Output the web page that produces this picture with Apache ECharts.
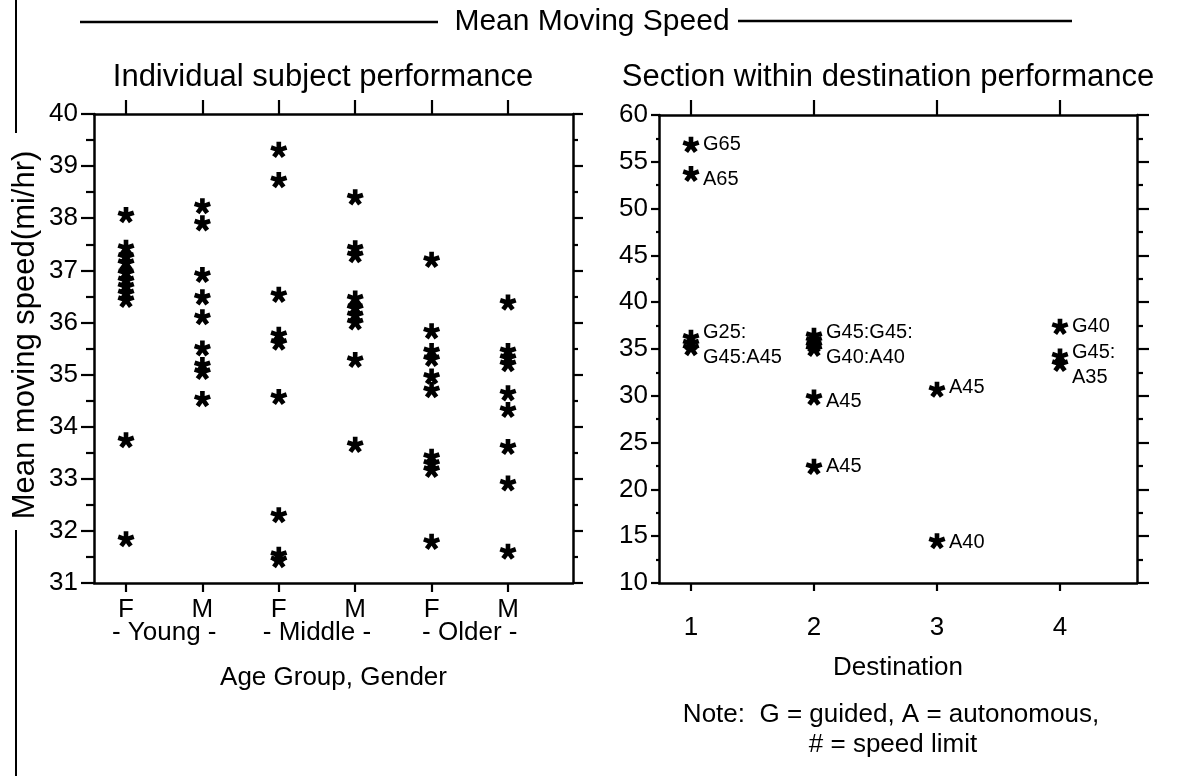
<!DOCTYPE html>
<html>
<head>
<meta charset="utf-8">
<script src="https://cdn.jsdelivr.net/npm/echarts@6/dist/echarts.min.js"></script>
<style>html,body{margin:0;padding:0;background:#fff}#c{width:1181px;height:776px}</style>
</head>
<body>
<div id="c"></div>
<script>
// ---------- data ----------
const genderLabels = ['F', 'M', 'F', 'M', 'F', 'M'];
const ageGroupLabels = ['- Young -', '- Middle -', '- Older -'];

const youngF  = [38.06, 37.43, 37.26, 37.14, 36.95, 36.81, 36.69, 36.56, 36.43, 33.74, 31.84];
const youngM  = [38.23, 37.90, 36.91, 36.48, 36.10, 35.50, 35.18, 35.05, 34.53];
const middleF = [39.31, 38.73, 36.53, 35.76, 35.61, 34.57, 32.30, 31.54, 31.44];
const middleM = [38.40, 37.42, 37.29, 36.46, 36.28, 36.14, 36.00, 35.28, 33.65];
const olderF  = [37.20, 35.83, 35.45, 35.30, 34.96, 34.70, 33.42, 33.29, 33.17, 31.79];
const olderM  = [36.38, 35.45, 35.32, 35.20, 34.64, 34.32, 33.61, 32.91, 31.60];

const destinations = [1, 2, 3, 4];
const dest1Speeds = [56.8, 53.7, 36.2, 35.6, 35.1];
const dest2Speeds = [36.4, 35.9, 35.4, 35.0, 29.8, 22.4];
const dest3Speeds = [30.65, 14.46];
const dest4Speeds = [37.37, 34.2, 33.4];

const labelDest  = [1, 1, 1, 2, 2, 2, 3, 3, 4, 4];
const labelSpeed = [56.8, 53.06, 35.45, 35.45, 29.4, 22.43, 30.86, 14.32, 37.37, 33.32];
const labelText  = ['G65', 'A65', 'G25:\nG45:A45', 'G45:G45:\nG40:A40', 'A45', 'A45', 'A45', 'A40', 'G40', 'G45:\nA35'];

const leftTicks = [31, 40];
const rightTicks = [10, 60];

// ---------- helpers ----------
const FONT = '"Liberation Sans", Arial, sans-serif';
function starPath() {
  const R = 10, r = 4.6, half = 16;
  const pts = [];
  for (let k = 0; k < 5; k++) {
    const a = -90 + 72 * k;
    [a - half, a + half].forEach(d => {
      const t = d * Math.PI / 180; pts.push([R * Math.cos(t), R * Math.sin(t)]);
    });
    const t = (a + 36) * Math.PI / 180; pts.push([r * Math.cos(t), r * Math.sin(t)]);
  }
  return 'path://M' + pts.map(p => p[0].toFixed(2) + ',' + p[1].toFixed(2)).join('L') + 'Z';
}
const STAR = starPath();
const black = '#000';
const lineStyle = { color: black, width: 2.5 };

const leftCols = [youngF, youngM, middleF, middleM, olderF, olderM];
const leftData = [];
leftCols.forEach((arr, i) => arr.forEach(v => leftData.push([i + 1, v])));
const rightCols = [dest1Speeds, dest2Speeds, dest3Speeds, dest4Speeds];
const rightData = [];
rightCols.forEach((arr, i) => arr.forEach(v => rightData.push([destinations[i], v])));
const labelData = labelDest.map((d, i) => ({ value: [d, labelSpeed[i]], name: labelText[i] }));

const L = { min: 0.581, max: 6.851 };
const R = { min: 0.74, max: 4.626 };
const catVals = genderLabels.map((_, i) => i + 1);
const groupVals = ageGroupLabels.map((_, i) => 2 * i + 1.5);

function xAx(grid, rng, pos, opts) {
  return Object.assign({
    type: 'value', gridIndex: grid, position: pos, min: rng.min, max: rng.max,
    axisLine: { show: true, onZero: false, lineStyle },
    splitLine: { show: false },
    axisTick: { show: false },
    axisLabel: { show: false }
  }, opts);
}
function yAx(grid, rng, interval, pos, tickLen, minorLen, labelOpts) {
  return {
    type: 'value', gridIndex: grid, position: pos, min: rng[0], max: rng[1], interval,
    axisLine: { show: true, onZero: false, lineStyle },
    splitLine: { show: false },
    axisTick: { show: true, inside: false, length: tickLen, lineStyle: { color: black, width: 2.2 } },
    minorTick: { show: true, splitNumber: 2, length: minorLen, lineStyle: { color: black, width: 2.2 } },
    axisLabel: labelOpts ? Object.assign({ color: black, fontSize: 26, fontFamily: FONT }, labelOpts) : { show: false }
  };
}

const option = {
  animation: false,
  backgroundColor: '#fff',
  textStyle: { fontFamily: FONT, color: black },
  grid: [
    { left: 94, top: 114, width: 479, height: 469 },
    { left: 659, top: 115, width: 478, height: 468 }
  ],
  xAxis: [
    xAx(0, L, 'bottom', {
      axisTick: { show: true, length: 9, customValues: catVals, lineStyle: { color: black, width: 2.2 } },
      axisLabel: { show: true, customValues: catVals, margin: 14, color: black, fontSize: 26, fontFamily: FONT,
        formatter: v => genderLabels[Math.round(v) - 1] },
      name: 'Age Group, Gender', nameLocation: 'middle', nameGap: 82,
      nameTextStyle: { fontSize: 26, color: black, fontFamily: FONT }
    }),
    xAx(0, L, 'bottom', {
      axisLine: { show: false },
      axisLabel: { show: true, customValues: groupVals, margin: 37, color: black, fontSize: 26, fontFamily: FONT,
        formatter: v => ageGroupLabels[Math.round((v - 1.5) / 2)] }
    }),
    xAx(0, L, 'top', {
      axisTick: { show: true, length: 14, customValues: catVals, lineStyle: { color: black, width: 2.2 } }
    }),
    xAx(1, R, 'bottom', {
      axisTick: { show: true, length: 8, customValues: destinations, lineStyle: { color: black, width: 2.2 } },
      axisLabel: { show: true, customValues: destinations, margin: 32, color: black, fontSize: 26, fontFamily: FONT,
        formatter: v => String(Math.round(v)) },
      name: 'Destination', nameLocation: 'middle', nameGap: 72,
      nameTextStyle: { fontSize: 26, color: black, fontFamily: FONT }
    }),
    xAx(1, R, 'top', {
      axisTick: { show: true, length: 15, customValues: destinations, lineStyle: { color: black, width: 2.2 } }
    })
  ],
  yAxis: [
    yAx(0, leftTicks, 1, 'left', 13, 8, { margin: 16 }),
    yAx(0, leftTicks, 1, 'right', 10, 5, null),
    yAx(1, rightTicks, 5, 'left', 8, 3, { margin: 11 }),
    yAx(1, rightTicks, 5, 'right', 12, 6, null)
  ],
  series: [
    {
      type: 'scatter', name: 'Individual subject', xAxisIndex: 0, yAxisIndex: 0,
      symbol: STAR, symbolSize: 17, symbolKeepAspect: true,
      itemStyle: { color: black, opacity: 1 }, data: leftData, z: 5
    },
    {
      type: 'scatter', name: 'Section within destination', xAxisIndex: 3, yAxisIndex: 2,
      symbol: STAR, symbolSize: 17, symbolKeepAspect: true,
      itemStyle: { color: black, opacity: 1 }, data: rightData, z: 5
    },
    {
      type: 'scatter', name: 'Labels', xAxisIndex: 3, yAxisIndex: 2,
      symbolSize: 0, silent: true, data: labelData, z: 6,
      itemStyle: { opacity: 1 },
      label: { show: true, position: 'right', distance: 12, formatter: '{b}',
        fontSize: 20, lineHeight: 25, color: black, fontFamily: FONT }
    }
  ],
  graphic: [
    { type: 'line', shape: { x1: 80, y1: 22, x2: 438, y2: 22 }, style: { stroke: black, lineWidth: 2.5 } },
    { type: 'line', shape: { x1: 738, y1: 21, x2: 1072, y2: 21 }, style: { stroke: black, lineWidth: 2.5 } },
    { type: 'text', x: 592, y: 22, style: { text: 'Mean Moving Speed', font: '30px ' + FONT, fill: black,
      textAlign: 'center', textVerticalAlign: 'middle', align: 'center', verticalAlign: 'middle' } },
    { type: 'text', x: 323, y: 77, style: { text: 'Individual subject performance', font: '31px ' + FONT, fill: black,
      textAlign: 'center', textVerticalAlign: 'middle', align: 'center', verticalAlign: 'middle' } },
    { type: 'text', x: 888, y: 77, style: { text: 'Section within destination performance', font: '31px ' + FONT, fill: black,
      textAlign: 'center', textVerticalAlign: 'middle', align: 'center', verticalAlign: 'middle' } },
    { type: 'text', x: 25, y: 335, rotation: Math.PI / 2, style: { text: 'Mean moving speed(mi/hr)', font: '31px ' + FONT, fill: black,
      textAlign: 'center', textVerticalAlign: 'middle', align: 'center', verticalAlign: 'middle' } },
    { type: 'line', shape: { x1: 16, y1: 0, x2: 16, y2: 133 }, style: { stroke: black, lineWidth: 2 } },
    { type: 'line', shape: { x1: 16, y1: 530, x2: 16, y2: 776 }, style: { stroke: black, lineWidth: 2 } },
    { type: 'text', x: 891, y: 715, style: { text: 'Note:  G = guided, A = autonomous,', font: '26px ' + FONT, fill: black,
      textAlign: 'center', textVerticalAlign: 'middle', align: 'center', verticalAlign: 'middle' } },
    { type: 'text', x: 893, y: 745, style: { text: '# = speed limit', font: '26px ' + FONT, fill: black,
      textAlign: 'center', textVerticalAlign: 'middle', align: 'center', verticalAlign: 'middle' } }
  ]
};

const chart = echarts.init(document.getElementById('c'), null, { renderer: 'canvas' });
chart.setOption(option);
</script>
</body>
</html>
